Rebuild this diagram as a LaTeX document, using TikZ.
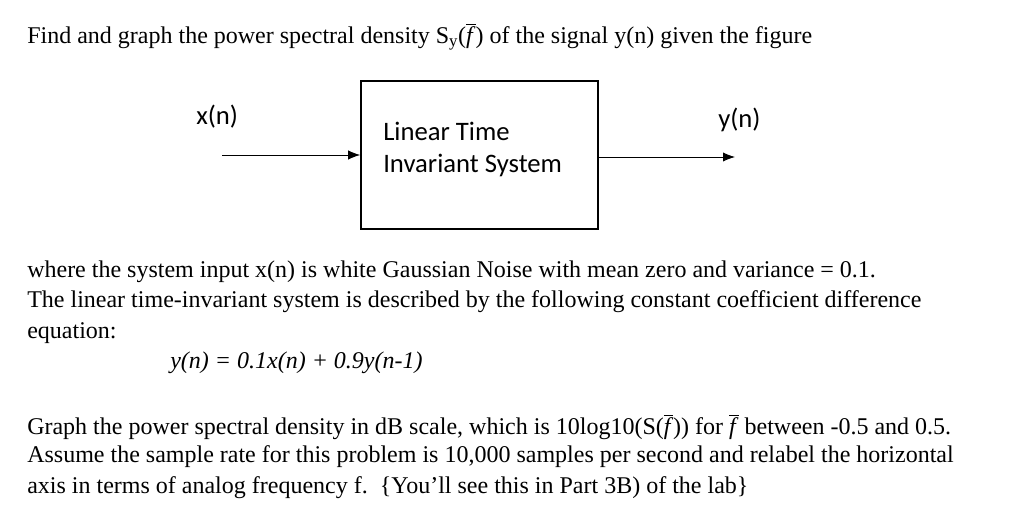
\documentclass[tikz,border=0pt]{standalone}
\usepackage{fontspec}
\usetikzlibrary{arrows.meta}
\setmainfont{Liberation Serif}
\newfontfamily\calfont{Carlito}
\newcommand{\fb}{$\overline{\mbox{\textit{f}}}$}
\begin{document}
\begin{tikzpicture}[x=0.75pt,y=-0.75pt,
  tx/.style={anchor=west,inner sep=0pt,font=\fontsize{18}{21}\selectfont},
  lb/.style={anchor=west,inner sep=0pt,font=\calfont\fontsize{20}{24}\selectfont},
  arr/.style={-{Latex[length=9pt,width=7pt]},line width=0.7pt}]
\useasboundingbox (0,0) rectangle (1024,530);
\node[tx] (t1) at (27,37) {Find and graph the power spectral density S\textsubscript{y}(\fb) of the signal y(n) given the figure};
\node[draw,line width=1.2pt,minimum width=237*0.75pt,minimum height=148*0.75pt,inner sep=0pt] (box) at (479.5,155) {};
\node[lb] (l1) at (383,131) {Linear Time};
\node[lb] (l2) at (383,165) {Invariant System};
\node[lb] (xn) at (196,117) {x(n)};
\node[lb] (yn) at (718,120) {y(n)};
\coordinate (in) at (222,155);
\coordinate (out) at (735,157);
\draw[arr] (in) -- (in -| box.west);
\draw[arr] (box.east |- out) -- (out);
\node[tx] (p1) at (27,272) {where the system input x(n) is white Gaussian Noise with mean zero and variance = 0.1.};
\node[tx] (p2) at (27,302) {The linear time-invariant system is described by the following constant coefficient difference};
\node[tx] (p3) at (27,333) {equation:};
\node[tx] (eq) at (170,363) {\textit{y(n) = 0.1x(n) + 0.9y(n-1)}};
\node[tx] (q1) at (27,427) {Graph the power spectral density in dB scale, which is 10log10(S(\fb)) for \fb{} between -0.5 and 0.5.};
\node[tx] (q2) at (27,457) {Assume the sample rate for this problem is 10,000 samples per second and relabel the horizontal};
\node[tx] (q3) at (27,488) {axis in terms of analog frequency f.\ \ \{You’ll see this in Part 3B) of the lab\}};
\end{tikzpicture}
\end{document}
